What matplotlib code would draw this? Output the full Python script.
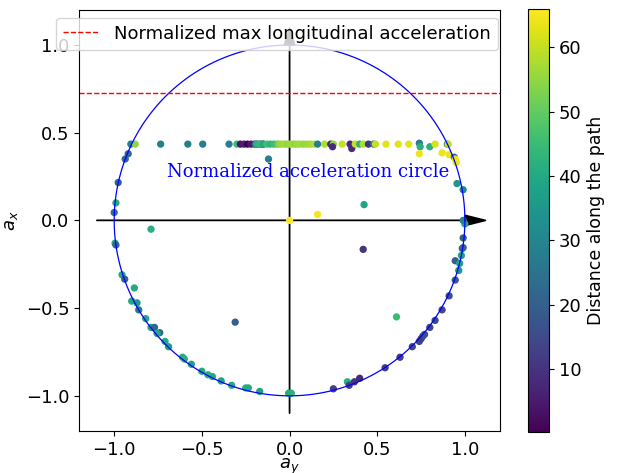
import numpy as np
import matplotlib
matplotlib.use("Agg")
import matplotlib.pyplot as plt

# lateral (a_y), longitudinal (a_x) normalized accelerations and distance along path
ay = [-0.905, -0.88, -0.735, -0.58, -0.495, -0.345, -0.30,
      -0.28, -0.26, -0.24, -0.22, -0.20, -0.185, -0.165, -0.15,
      -0.19, -0.17, -0.15, -0.13, -0.11, -0.09, -0.07,
      -0.06, -0.045, -0.03, -0.015, 0.0, 0.015, 0.03, 0.045, 0.06, 0.08, 0.10, 0.12, 0.14,
      0.16, 0.20, 0.235, 0.25, 0.245, 0.30, 0.345, 0.355, 0.375, 0.40, 0.42, 0.45, 0.48, 0.49,
      0.55, 0.62, 0.68, 0.74, 0.745, 0.74, 0.80, 0.83, 0.87, 0.90, 0.905, 0.91, 0.94, 0.945, 0.95,
      -0.12, 0.16, 0.425, -0.79, 0.0, 0.42, -0.31, 0.61,
      -0.92, -0.937, -0.977, -0.99, -1.0, -0.995, -0.99, -0.955, -0.94, -0.885, -0.90, -0.87,
      -0.86, -0.82, -0.79, -0.77, -0.74, -0.755, -0.71, -0.69, -0.61, -0.60, -0.56, -0.50,
      -0.465, -0.44, -0.39, -0.33, -0.25, -0.235, -0.17, -0.005, 0.01,
      0.25, 0.33, 0.34, 0.37, 0.40, 0.545, 0.63, 0.70, 0.74, 0.75, 0.76, 0.77, 0.80, 0.83,
      0.87, 0.91, 0.945, 0.965, 0.945, 0.97, 0.98, 0.99, 0.985, 0.99, 1.0, 0.99, 0.955, 0.99]
ax_ = [0.435, 0.435, 0.435, 0.435, 0.435, 0.435, 0.435,
       0.435, 0.435, 0.435, 0.435, 0.435, 0.435, 0.435, 0.435,
       0.435, 0.435, 0.435, 0.435, 0.435, 0.435, 0.435,
       0.435, 0.435, 0.435, 0.435, 0.435, 0.435, 0.435, 0.435, 0.435, 0.435, 0.435, 0.435, 0.435,
       0.435, 0.435, 0.435, 0.435, 0.42, 0.435, 0.435, 0.41, 0.435, 0.435, 0.435, 0.435, 0.435, 0.435,
       0.435, 0.435, 0.435, 0.44, 0.42, 0.38, 0.42, 0.435, 0.385, 0.435, 0.435, 0.375, 0.36, 0.35, 0.33,
       0.35, 0.034, 0.09, -0.05, 0.0, -0.165, -0.58, -0.55,
       0.38, 0.35, 0.216, 0.10, 0.045, -0.13, -0.14, -0.31, -0.335, -0.385, -0.46, -0.47,
       -0.51, -0.56, -0.61, -0.61, -0.64, -0.645, -0.69, -0.72, -0.78, -0.79, -0.82, -0.86,
       -0.88, -0.89, -0.915, -0.94, -0.955, -0.955, -0.975, -0.985, -0.985,
       -0.96, -0.92, -0.94, -0.92, -0.90, -0.84, -0.78, -0.72, -0.69, -0.675, -0.66, -0.65, -0.61, -0.57,
       -0.51, -0.43, -0.34, -0.285, -0.23, -0.245, -0.20, -0.155, -0.16, -0.10, -0.02, 0.0, 0.21, 0.175]
dist = [28, 55, 28, 28, 28, 28, 45,
        4, 6, 0.2, 5, 8, 4, 6, 3,
        42, 44, 40, 46, 43, 45, 48,
        55, 56, 57, 55, 56, 57, 55, 56, 57, 55, 56, 57, 58,
        28, 58, 8, 55, 8, 60, 8, 8, 60, 42, 58, 10, 28, 60,
        63, 63, 63, 28, 42, 64, 42, 62, 64, 30, 60, 64, 20, 64, 64,
        28, 65, 38, 42, 65.9, 10, 20, 45,
        22, 22, 22, 40, 25, 40, 22, 40, 22, 40, 40, 35,
        28, 40, 38, 22, 22, 40, 40, 38, 40, 42, 38, 40,
        42, 40, 38, 40, 42, 40, 38, 40, 42,
        12, 42, 12, 10, 8, 12, 12, 14, 15, 12, 14, 16, 14, 15,
        14, 16, 18, 35, 20, 38, 38, 20, 22, 20, 38, 30, 35, 32]

max_long = 0.727

fig = plt.figure(figsize=(6.18, 4.73), dpi=100)
ax = fig.add_axes([0.128, 0.089, 0.681, 0.890])
cax = fig.add_axes([0.854, 0.087, 0.034, 0.893])

theta = np.linspace(0, 2 * np.pi, 400)
ax.arrow(-1.1, 0, 2.1, 0, head_width=0.06, head_length=0.12, color='black', lw=1)
ax.arrow(0, -1.1, 0, 2.1, head_width=0.06, head_length=0.1, color='black', lw=1)
sc = ax.scatter(ay, ax_, c=dist, cmap='viridis', s=18, vmin=min(dist), vmax=max(dist))
ax.plot(np.cos(theta), np.sin(theta), color='blue', lw=0.9)
ax.axhline(max_long, color='red', ls='--', lw=1, label='Normalized max longitudinal acceleration')
ax.text(-0.7, 0.25, 'Normalized acceleration circle', color='blue', family='DejaVu Serif', fontsize=13)

ax.set_xlim(-1.2, 1.2)
ax.set_ylim(-1.2, 1.2)
ax.set_xticks([-1.0, -0.5, 0.0, 0.5, 1.0])
ax.set_yticks([-1.0, -0.5, 0.0, 0.5, 1.0])
ax.tick_params(labelsize=13)
ax.set_xlabel('$a_y$', fontsize=13, labelpad=-1.5)
ax.set_ylabel('$a_x$', fontsize=13)
ax.legend(loc='upper left', bbox_to_anchor=(-0.055, 0.982), borderaxespad=0, fontsize=13)

cb = fig.colorbar(sc, cax=cax)
cb.set_label('Distance along the path', fontsize=12.5)
cb.ax.tick_params(labelsize=13)

fig.savefig('out.png', dpi=100)
